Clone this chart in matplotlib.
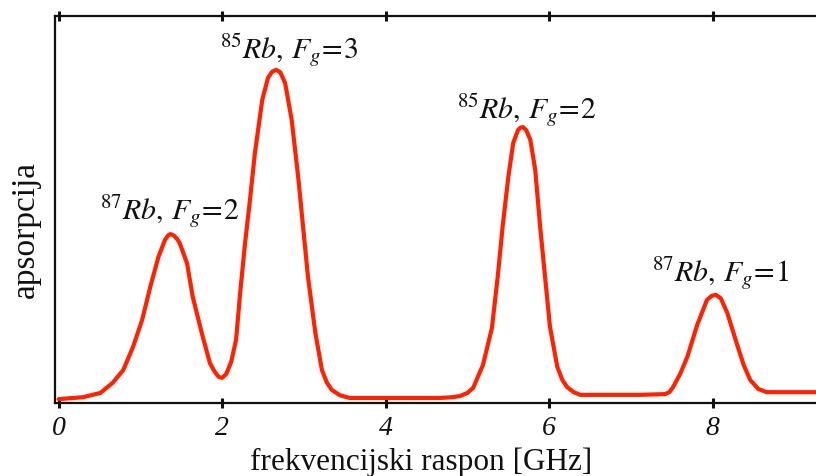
import matplotlib
matplotlib.use("Agg")
import matplotlib.pyplot as plt

# frequency span [GHz]
freq = [0.00, 0.30, 0.51, 0.66, 0.79, 0.91, 1.02, 1.12, 1.22, 1.30, 1.34, 1.37, 1.41,
        1.45, 1.48, 1.57, 1.64, 1.75, 1.85, 1.91, 1.96, 2.00, 2.05, 2.11, 2.17, 2.22,
        2.28, 2.34, 2.40, 2.49, 2.56, 2.61, 2.66, 2.71, 2.77, 2.85, 2.93, 2.99, 3.05,
        3.14, 3.22, 3.28, 3.34, 3.44, 3.56, 4.02, 4.66, 4.82, 4.91, 5.00, 5.07, 5.19,
        5.30, 5.37, 5.43, 5.50, 5.56, 5.62, 5.65, 5.68, 5.72, 5.77, 5.83, 5.89, 5.95,
        6.01, 6.10, 6.16, 6.22, 6.30, 6.38, 7.11, 7.42, 7.47, 7.51, 7.60, 7.69, 7.81,
        7.93, 7.99, 8.04, 8.10, 8.18, 8.30, 8.38, 8.46, 8.56, 8.66, 9.26]
# absorption (arbitrary units)
absorb = [1.0, 1.5, 2.6, 5.2, 8.5, 14.5, 21.4, 29.9, 37.7, 42.1, 43.3, 43.6, 43.2,
          42.3, 41.3, 36.1, 27.4, 18.1, 10.3, 8.0, 6.7, 6.5, 7.5, 10.6, 16.3, 28.4,
          41.3, 52.4, 64.5, 78.2, 83.9, 85.5, 86.0, 85.4, 82.6, 73.1, 58.3, 45.4, 32.5,
          18.1, 8.5, 5.3, 3.4, 2.0, 1.3, 1.3, 1.3, 1.5, 1.8, 2.6, 3.9, 9.8,
          19.4, 32.5, 45.4, 58.3, 67.1, 70.5, 71.1, 71.2, 70.4, 67.9, 60.1, 45.4, 32.5,
          19.6, 9.3, 6.0, 4.1, 2.8, 2.1, 2.1, 2.3, 2.8, 3.9, 7.4, 11.9, 20.1,
          26.6, 27.7, 27.9, 27.0, 23.2, 15.0, 9.8, 5.9, 3.6, 2.8, 2.8]

peak_labels = [r'$^{\mathit{87}}Rb,\,F_g\!=\!2$', r'$^{\mathit{85}}Rb,\,F_g\!=\!3$',
               r'$^{\mathit{85}}Rb,\,F_g\!=\!2$', r'$^{\mathit{87}}Rb,\,F_g\!=\!1$']
label_x = [1.36, 2.82, 5.72, 8.09]
label_y = [47.2, 89.1, 73.6, 31.2]

xticks = [0, 2, 4, 6, 8]

plt.rcParams['font.family'] = ['Liberation Serif', 'DejaVu Serif']
plt.rcParams['mathtext.fontset'] = 'stix'

W, H = 816, 476
fig = plt.figure(figsize=(W / 100, H / 100), dpi=100)
ax = fig.add_axes([55 / W, (H - 403) / H, 1 - 55 / W, (403 - 15.6) / H])

ax.plot(freq, absorb, color='#ff2200', lw=3.0, solid_joinstyle='round',
        solid_capstyle='round')

ax.set_xlim(-0.045, 9.264)
ax.set_ylim(0, 100)

for lx, ly, lt in zip(label_x, label_y, peak_labels):
    ax.text(lx, ly, lt, ha='center', va='baseline', fontsize=21.5, color='#111111')

ax.spines['right'].set_visible(False)
for s in ['left', 'bottom', 'top']:
    ax.spines[s].set_linewidth(1.6)
    ax.spines[s].set_color('#111111')

ax.set_yticks([])
ax.set_xticks(xticks)
ax.set_xticklabels([str(t) for t in xticks], fontstyle='italic', fontsize=20)
ax.tick_params(axis='x', which='both', direction='inout', length=7, width=2.2,
               top=True, labeltop=False, pad=6, colors='#111111')

fig.text(421.5 / W, (H - 470) / H, 'frekvencijski raspon [GHz]', ha='center',
         va='baseline', fontsize=22.5, color='#111111')
fig.text(26 / W, (H - 230) / H, 'apsorpcija', rotation=90, ha='center',
         va='center', fontsize=24, color='#111111')

fig.savefig('out.png', dpi=100)
